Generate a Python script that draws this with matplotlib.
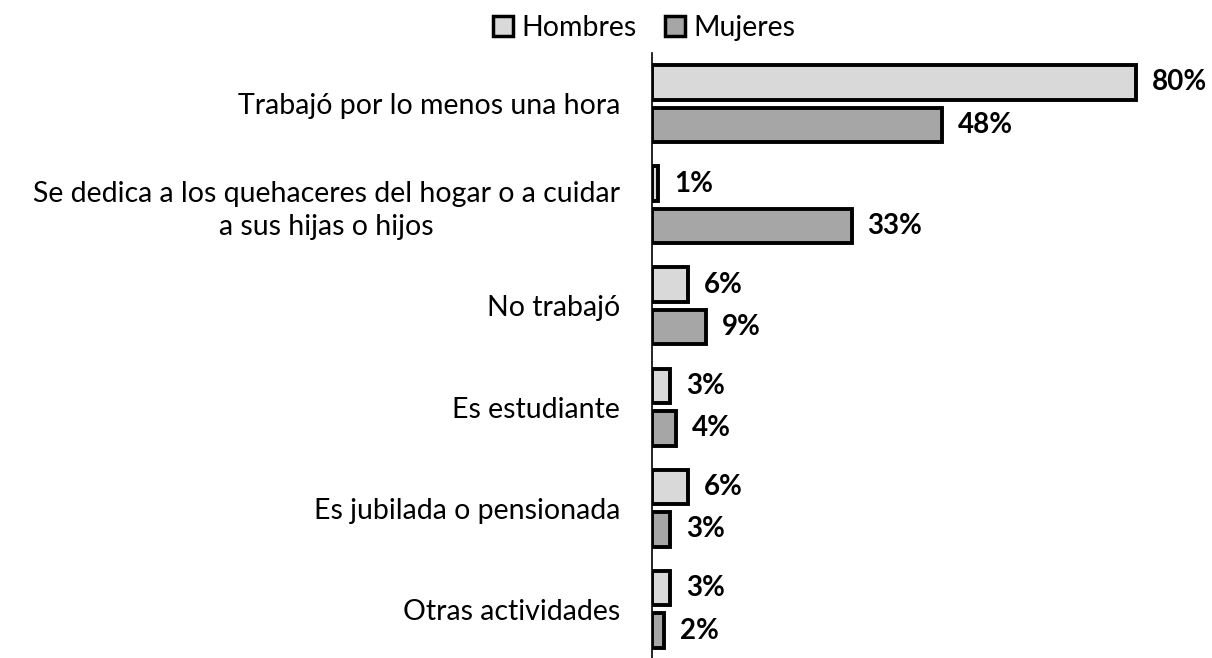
import matplotlib
matplotlib.use("Agg")
import matplotlib.pyplot as plt
from matplotlib.patches import Patch
import numpy as np

categories = [
    "Trabajó por lo menos una hora",
    "Se dedica a los quehaceres del hogar o a cuidar\na sus hijas o hijos",
    "No trabajó",
    "Es estudiante",
    "Es jubilada o pensionada",
    "Otras actividades",
]
hombres = [80, 1, 6, 3, 6, 3]
mujeres = [48, 33, 9, 4, 3, 2]
series_names = ["Hombres", "Mujeres"]
colors = ["#D9D9D9", "#A6A6A6"]

plt.rcParams['font.family'] = ['Lato', 'DejaVu Sans']

W, H = 1212, 658
fig = plt.figure(figsize=(W / 100, H / 100), dpi=100)
left_px, top_px, bottom_px, right_px = 652, 53, 660, 1212
ax = fig.add_axes([left_px / W, 1 - bottom_px / H, (right_px - left_px) / W, (bottom_px - top_px) / H])
ax.set_clip_on(False)

y = np.arange(len(categories))
bh = 0.34
off = 0.21
for vals, col, sgn in [(hombres, colors[0], -1), (mujeres, colors[1], 1)]:
    ax.barh(y + sgn * off, vals, height=bh, color=col, edgecolor="black", linewidth=2.8)
    for yi, v in zip(y, vals):
        ax.text(v + 2.6, yi + sgn * off, f"{v}%", va="center", ha="left",
                fontsize=20, fontweight="bold", color="black")

ax.set_ylim(len(categories) - 0.5, -0.5)
ax.set_xlim(0, (right_px - left_px) / 6.05)
ax.set_yticks(y)
ax.set_yticklabels(categories, fontsize=20.5, ha="right", linespacing=1.3)
ax.tick_params(axis="y", length=0, pad=23)
for lab in ax.get_yticklabels():
    lab.set_multialignment("center")
ax.set_xticks([])
for s in ["top", "right", "bottom"]:
    ax.spines[s].set_visible(False)
ax.spines["left"].set_linewidth(1.2)

handles = [Patch(facecolor=c, edgecolor="black", linewidth=2.5) for c in colors]
fig.legend(handles, series_names, loc="center", bbox_to_anchor=(644 / W, 1 - 28 / H),
           ncol=2, frameon=False, fontsize=20.5, handlelength=0.7, handleheight=0.7,
           handletextpad=0.3, columnspacing=1.0, borderpad=0)

fig.savefig("out.png", dpi=100)
